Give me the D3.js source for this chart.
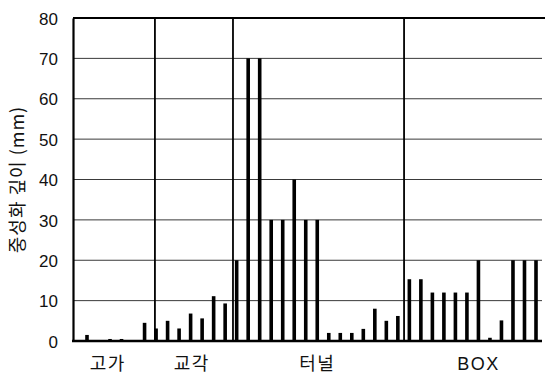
<!DOCTYPE html>
<html><head><meta charset="utf-8">
<script src="https://cdn.jsdelivr.net/npm/d3@7"></script>
<style>body{margin:0;background:#fff}svg{display:block}</style>
</head><body>
<svg id="c" width="545" height="378"></svg>
<script>
// ---- data ----
const groupNames = ["고가", "교각", "터널", "BOX"];
const valsGoga   = [1.5, 0, 0.5, 0.5, 0, 4.5];
const valsGyogak = [3.1, 5, 3.1, 6.8, 5.6, 11.1, 9.3];
const valsTunnel = [20, 70, 70, 30, 30, 40, 30, 30, 2, 2, 2, 3, 8, 5, 6.2];
const valsBox    = [15.3, 15.3, 12, 12, 12, 12, 20, 0.8, 5.1, 20, 20, 20];
const yTicks = [0, 10, 20, 30, 40, 50, 60, 70, 80];
const yTitle = "중성화 깊이 (mm)";

const groupVals = [valsGoga, valsGyogak, valsTunnel, valsBox];
const data = [];
groupVals.forEach((arr, g) => arr.forEach(v => data.push({i: data.length, g, v})));

// ---- layout ----
const L = 73, R = 542, T = 18, B = 341;
const svg = d3.select("#c");
const x = d3.scalePoint().domain(d3.range(data.length)).range([87, 536]);
const step = x.step();
const xi = t => x(0) + t * step; // fractional index position
const y = d3.scaleLinear().domain([0, 80]).range([B, T]);

// gridlines
svg.append("g").selectAll("line").data(yTicks.filter(t => t > 0 && t < 80)).join("line")
  .attr("x1", L).attr("x2", R).attr("y1", d => y(d)).attr("y2", d => y(d))
  .attr("stroke", "#3a3a3a").attr("stroke-width", 1);

// top line
svg.append("line").attr("x1", L).attr("x2", 545).attr("y1", y(80)).attr("y2", y(80))
  .attr("stroke", "#000").attr("stroke-width", 2);

// group dividers (between groups)
const bounds = [];
let acc = 0;
groupVals.forEach((a, g) => { const s = acc; acc += a.length; bounds.push({g, s, e: acc - 1}); });
const dividerOffsets = [0.4, 0.18, 0.04];
svg.append("g").selectAll("line").data(bounds.slice(1)).join("line")
  .attr("x1", (d, k) => xi(d.s - 1 + 0.5 + dividerOffsets[k])).attr("x2", (d, k) => xi(d.s - 1 + 0.5 + dividerOffsets[k]))
  .attr("y1", y(80)).attr("y2", y(0))
  .attr("stroke", "#000").attr("stroke-width", 1.8);

// bars
const bw = 3.6;
svg.append("g").selectAll("rect").data(data.filter(d => d.v > 0)).join("rect")
  .attr("x", d => x(d.i) - bw / 2).attr("width", bw)
  .attr("y", d => y(d.v)).attr("height", d => y(0) - y(d.v))
  .attr("fill", "#000");

// y axis
const yAxis = d3.axisLeft(y).tickValues(yTicks).tickSize(0).tickPadding(15);
const ga = svg.append("g").attr("transform", `translate(${L},0)`).call(yAxis);
ga.select(".domain").attr("stroke", "#000").attr("stroke-width", 2.2);
ga.selectAll("text").attr("font-family", "Liberation Sans, Arial, sans-serif")
  .attr("font-size", 17).attr("fill", "#111").attr("dy", "0.36em");

// x baseline
svg.append("line").attr("x1", L - 1).attr("x2", R).attr("y1", B).attr("y2", B)
  .attr("stroke", "#000").attr("stroke-width", 2.5);

// group labels
const labelIdx = [1.8, 9.1, 20, 34];
svg.append("g").selectAll("text").data(groupNames).join("text")
  .attr("x", (d, k) => xi(labelIdx[k])).attr("y", 370)
  .attr("text-anchor", "middle")
  .attr("font-family", "Liberation Sans, 'Noto Sans CJK KR', sans-serif")
  .attr("font-size", 18).attr("letter-spacing", 1.5).attr("fill", "#111")
  .text(d => d);

// y title
svg.append("text")
  .attr("transform", `translate(24,${(T + B) / 2}) rotate(-90)`)
  .attr("text-anchor", "middle")
  .attr("font-family", "'Noto Sans CJK KR', Liberation Sans, sans-serif")
  .attr("font-size", 18).attr("letter-spacing", 1).attr("fill", "#111")
  .text(yTitle);
</script>
</body></html>
